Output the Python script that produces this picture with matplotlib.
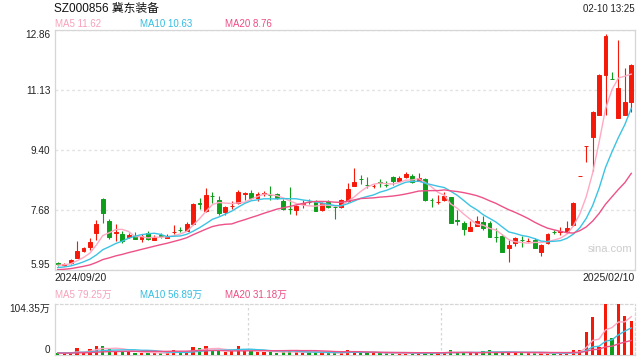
import numpy as np
import pandas as pd
import matplotlib
matplotlib.use('Agg')
import matplotlib.pyplot as plt

plt.rcParams['font.family'] = ['Liberation Sans', 'Noto Sans CJK SC', 'DejaVu Sans']

# 冀东装备 日K 2024/09/20 - 2025/02/10
opens = [6.15, 6.10, 6.14, 6.30, 6.51, 6.62, 7.01, 7.99, 7.36, 7.01,
         6.99, 6.89, 6.92, 6.85, 7.01, 6.82, 6.95, 6.88, 7.04, 7.11,
         7.08, 7.27, 7.88, 7.66, 8.09, 7.97, 7.62, 7.78, 7.87, 8.15,
         8.17, 8.03, 8.15, 8.11, 8.13, 7.94, 7.72, 7.68, 7.86, 7.92,
         7.92, 7.68, 7.92, 7.76, 7.76, 7.94, 8.38, 8.57, 8.40, 8.36,
         8.47, 8.40, 8.62, 8.52, 8.64, 8.67, 8.52, 8.57, 7.97, 7.91,
         7.97, 8.04, 7.38, 7.30, 7.08, 7.23, 7.33, 7.30, 6.90, 6.93,
         6.58, 6.72, 6.82, 6.78, 6.81, 6.48, 6.72, 7.04, 7.05, 7.04,
         7.25, 8.66, 9.52, 9.79, 10.41, 11.56, 11.46, 10.32, 10.41, 10.80]
highs = [6.18, 6.15, 6.27, 6.79, 6.61, 6.87, 7.39, 8.02, 7.42, 7.27,
         7.08, 7.02, 7.04, 6.99, 7.07, 6.96, 7.01, 6.99, 7.25, 7.18,
         7.33, 7.88, 8.01, 8.31, 8.20, 8.08, 7.79, 7.94, 8.25, 8.20,
         8.25, 8.20, 8.23, 8.37, 8.17, 7.99, 8.33, 7.82, 7.97, 7.99,
         7.97, 7.91, 7.97, 7.79, 7.99, 8.46, 8.90, 8.69, 8.62, 8.43,
         8.57, 8.51, 8.66, 8.66, 8.77, 8.71, 8.73, 8.60, 8.03, 8.11,
         8.20, 8.05, 7.68, 7.36, 7.36, 7.51, 7.51, 7.36, 7.17, 6.99,
         6.81, 6.90, 6.93, 6.87, 6.87, 6.70, 7.02, 7.10, 7.20, 7.36,
         7.91, 8.66, 9.53, 10.53, 11.59, 12.74, 11.66, 12.57, 11.78, 11.88]
lows = [6.07, 6.07, 6.12, 6.30, 6.47, 6.53, 6.81, 7.30, 6.85, 6.79,
        6.72, 6.87, 6.83, 6.77, 6.81, 6.81, 6.86, 6.87, 6.98, 7.05,
        7.07, 7.25, 7.70, 7.62, 7.89, 7.53, 7.53, 7.70, 7.85, 7.97,
        7.99, 7.94, 8.08, 7.97, 7.99, 7.68, 7.56, 7.54, 7.74, 7.85,
        7.65, 7.65, 7.74, 7.43, 7.74, 7.91, 8.37, 8.42, 8.31, 8.32,
        8.35, 8.34, 8.40, 8.48, 8.60, 8.46, 8.51, 7.95, 7.76, 7.85,
        7.94, 7.30, 7.25, 6.96, 7.07, 7.22, 7.10, 6.90, 6.77, 6.47,
        6.17, 6.64, 6.61, 6.76, 6.58, 6.36, 6.70, 6.99, 6.96, 7.02,
        7.22, 8.66, 9.07, 8.81, 10.41, 10.41, 11.45, 10.32, 10.41, 10.51]
closes = [6.12, 6.11, 6.24, 6.50, 6.58, 6.76, 7.27, 7.60, 6.91, 7.03,
          6.79, 6.96, 6.85, 6.93, 6.83, 6.91, 6.94, 6.93, 7.05, 7.10,
          7.27, 7.85, 7.86, 8.11, 8.07, 7.58, 7.76, 7.80, 8.20, 8.16,
          8.03, 8.13, 8.16, 8.10, 8.03, 7.70, 7.71, 7.79, 7.87, 7.91,
          7.66, 7.87, 7.77, 7.75, 7.97, 8.28, 8.49, 8.56, 8.39, 8.37,
          8.46, 8.39, 8.52, 8.60, 8.71, 8.49, 8.59, 7.97, 7.96, 7.92,
          8.08, 7.31, 7.37, 7.12, 7.18, 7.36, 7.17, 6.91, 6.89, 6.48,
          6.67, 6.86, 6.81, 6.79, 6.59, 6.67, 6.98, 7.03, 7.06, 7.15,
          7.87, 8.66, 9.53, 10.49, 11.56, 12.69, 11.45, 11.18, 10.78, 11.85]
# 成交量 (万)
vols = [4.8, 3.4, 4.8, 13.6, 5.5, 11.6, 18.4, 18.4, 12.3, 8.9,
        6.8, 6.8, 4.1, 4.1, 4.8, 4.1, 3.4, 4.1, 10.2, 4.8,
        6.8, 16.4, 13.6, 18.4, 10.2, 8.9, 6.1, 8.9, 18.4, 8.9,
        8.9, 6.8, 6.8, 6.1, 4.8, 5.5, 8.2, 5.5, 4.8, 5.5,
        5.5, 4.8, 4.1, 3.4, 3.4, 10.2, 8.2, 4.8, 4.8, 4.1,
        3.4, 3.4, 3.4, 3.4, 3.4, 4.1, 4.1, 6.1, 4.1, 4.8,
        5.5, 10.2, 4.1, 4.8, 4.1, 4.1, 8.2, 10.2, 4.8, 5.5,
        5.5, 5.5, 4.1, 3.4, 3.4, 3.4, 3.4, 3.4, 3.4, 3.4,
        10.2, 10.2, 47.0, 78.0, 17.0, 104.35, 34.0, 104.0, 80.0, 70.0]
# 图前19个交易日 (估计, 只用于均线起点)
pre_closes = [5.86, 5.88, 5.85, 5.90, 5.92, 5.89, 5.91, 5.93, 5.90, 5.94,
              5.92, 5.95, 5.97, 5.93, 5.98, 6.05, 6.10, 6.06, 6.11]
pre_vols = [3.2, 3.5, 2.9, 3.8, 3.1, 3.6, 4.0, 3.3, 3.0, 3.7,
            3.4, 4.2, 3.9, 3.5, 4.4, 5.0, 4.6, 4.1, 4.8]

price_ticks = [5.95, 7.68, 9.40, 11.13, 12.86]
price_labels = ['5.95', '7.68', '9.40', '11.13', '12.86']
vol_ticks = [0, 104.35]
vol_labels = ['0', '104.35万']
date_labels = ['2024/09/20', '2025/02/10']
title = 'SZ000856 冀东装备'
stamp = '02-10 13:25'
ma_price_txt = ['MA5 11.62', 'MA10 10.63', 'MA20 8.76']
ma_vol_txt = ['MA5 79.25万', 'MA10 56.89万', 'MA20 31.18万']

RED = '#f5190a'
GREEN = '#0f9d1c'
MA_COLORS = ['#ffa9c3', '#3cc3e4', '#ee5188']
MA_TXT = ['#f7a1bb', '#34bde0', '#ec4d85']
BORDER = '#d6d6d6'
DOT = (0, (2, 2))

o = np.array(opens); h = np.array(highs); l = np.array(lows); c = np.array(closes)
v = np.array(vols)
x = np.arange(len(c))
up = c >= o
col = np.where(up, RED, GREEN)

c_all = pd.Series(pre_closes + closes)
v_all = pd.Series(pre_vols + vols)
n0 = len(pre_closes)
ma_p = [c_all.rolling(n).mean().iloc[n0:].to_numpy() for n in (5, 10, 20)]
ma_v = [v_all.rolling(n).mean().iloc[n0:].to_numpy() for n in (5, 10, 20)]

fig = plt.figure(figsize=(6.4, 3.6), dpi=100)
W, H = 640, 360
L, R = 54.5, 634.5
ax = fig.add_axes([L / W, 1 - 270 / H, (R - L) / W, 240 / H])
ax2 = fig.add_axes([L / W, 1 - 355 / H, (R - L) / W, 51 / H])

# K线
ax.vlines(x, l, h, colors=col, linewidth=0.8, zorder=3)
ax.bar(x, np.abs(c - o), bottom=np.minimum(o, c), width=0.62, color=col,
       edgecolor=col, linewidth=0.7, zorder=4)
for m, cc in zip(ma_p, MA_COLORS):
    ax.plot(x, m, color=cc, linewidth=1.0, zorder=5)

ax.set_xlim(-0.5, len(c) - 0.5)
ax.set_ylim(price_ticks[0], price_ticks[-1])
ax.set_yticks(price_ticks)
ax.set_yticklabels(price_labels)
labs = ax.get_yticklabels()
labs[0].set_va('bottom')
labs[-1].set_va('top')
ax.set_xticks([])
ax.tick_params(axis='y', length=0, pad=3, labelsize=7.2, labelcolor='#222222')
ax.grid(axis='y', color='#e2e2e2', linestyle=DOT, linewidth=1.0, zorder=0)
for s in ax.spines.values():
    s.set_color(BORDER)
    s.set_linewidth(0.9)
ax.text(0.958, 0.088, 'sina.com', transform=ax.transAxes, ha='center', va='center',
        fontsize=8, color='#cccccc', zorder=2)

# 成交量
ax2.bar(x, v, width=0.5, color=col, zorder=3)
for m, cc in zip(ma_v, MA_COLORS):
    ax2.plot(x, m, color=cc, linewidth=1.0, zorder=4)
ax2.set_xlim(-0.5, len(c) - 0.5)
ax2.set_ylim(vol_ticks[0], vol_ticks[-1])
ax2.set_yticks(vol_ticks)
ax2.set_yticklabels(vol_labels)
vl = ax2.get_yticklabels()
vl[0].set_va('bottom')
vl[-1].set_va('top')
ax2.set_xticks([])
ax2.tick_params(axis='y', length=0, pad=3, labelsize=7.2, labelcolor='#222222')
for k, s in ax2.spines.items():
    s.set_color(BORDER)
    s.set_linewidth(0.9)
    if k in ('top', 'right'):
        s.set_linestyle(DOT)
for f in (1 / 3, 2 / 3):
    ax2.plot([f, f], [0, 1], transform=ax2.transAxes, color=BORDER,
             linestyle=DOT, linewidth=0.9, zorder=1)

# 文字
fig.text(L / W, 1 - 9 / H, title, fontsize=8.5, color='#111111', va='center', ha='left')
fig.text(R / W, 1 - 9 / H, stamp, fontsize=7, color='#222222', va='center', ha='right')
for t, cc, px in zip(ma_price_txt, MA_TXT, (55, 140, 225)):
    fig.text(px / W, 1 - 24 / H, t, fontsize=7, color=cc, va='center', ha='left')
for t, cc, px in zip(ma_vol_txt, MA_TXT, (55, 140, 225)):
    fig.text(px / W, 1 - 295 / H, t, fontsize=7, color=cc, va='center', ha='left')
fig.text(L / W, 1 - 278 / H, date_labels[0], fontsize=7.5, color='#222222', va='center', ha='left')
fig.text(R / W, 1 - 278 / H, date_labels[1], fontsize=7.5, color='#222222', va='center', ha='right')

fig.savefig('out.png', dpi=100)
